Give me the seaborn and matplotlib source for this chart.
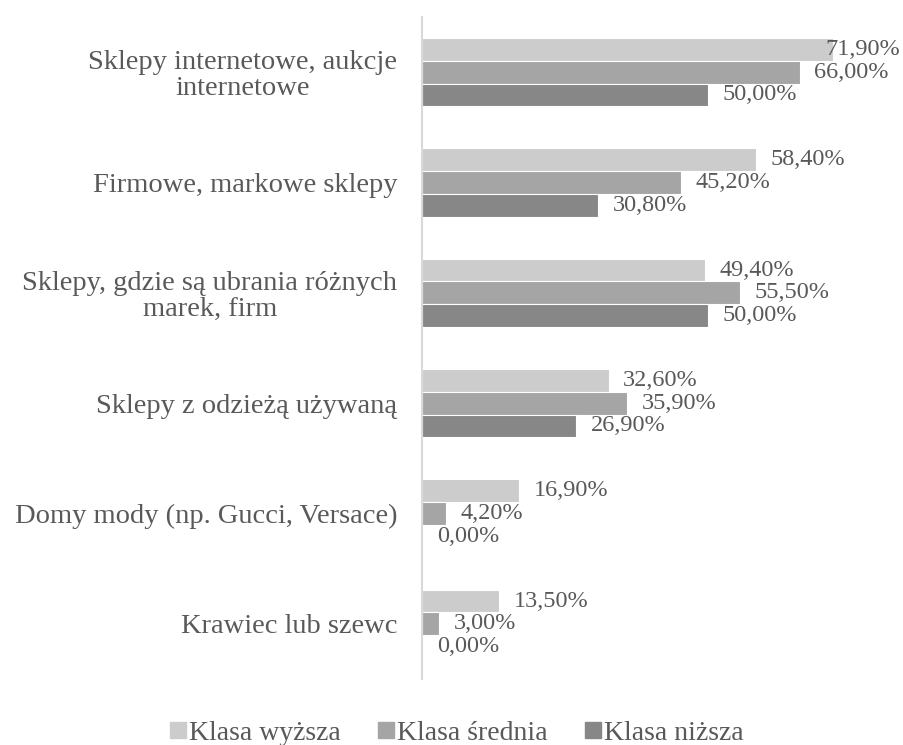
import pandas as pd
import matplotlib.pyplot as plt
import seaborn as sns

# Data
kategorie = [
    "Sklepy internetowe, aukcje\ninternetowe",
    "Firmowe, markowe sklepy",
    "Sklepy, gdzie są ubrania różnych\nmarek, firm",
    "Sklepy z odzieżą używaną",
    "Domy mody (np. Gucci, Versace)",
    "Krawiec lub szewc",
]
klasy = ["Klasa wyższa", "Klasa średnia", "Klasa niższa"]
wyzsza = [71.9, 58.4, 49.4, 32.6, 16.9, 13.5]
srednia = [66.0, 45.2, 55.5, 35.9, 4.2, 3.0]
nizsza = [50.0, 30.8, 50.0, 26.9, 0.0, 0.0]
kolory = ["#cccccc", "#a5a5a5", "#878787"]

df = pd.DataFrame({
    "kategoria": kategorie * 3,
    "klasa": [k for k in klasy for _ in kategorie],
    "wartosc": wyzsza + srednia + nizsza,
})

sns.set_style("white")
plt.rcParams["font.family"] = ["Liberation Serif", "DejaVu Serif"]
text_col = "#595959"

fig = plt.figure(figsize=(9.04, 7.45), dpi=100)
ax = fig.add_axes([0.467, 0.0886, 0.506, 0.8886])

sns.barplot(data=df, y="kategoria", x="wartosc", hue="klasa", order=kategorie,
            hue_order=klasy, palette=kolory, orient="h", width=0.62,
            edgecolor="white", linewidth=0.8, legend=False, ax=ax)

ax.set_xlim(0, 80)
ax.set_xlabel("")
ax.set_ylabel("")
ax.set_xticks([])
ax.tick_params(axis="y", length=0, pad=18, labelsize=20.5, labelcolor=text_col)
for lab in ax.get_yticklabels():
    lab.set_multialignment("center")
    lab.set_linespacing(1.05)

for s in ["top", "right", "bottom"]:
    ax.spines[s].set_visible(False)
ax.spines["left"].set_color("#d9d9d9")
ax.spines["left"].set_linewidth(1.5)

# data labels
for cont in ax.containers:
    labels = [f"{b.get_width():.2f}%".replace(".", ",") for b in cont]
    ax.bar_label(cont, labels=labels, padding=10.5, fontsize=17.5, color=text_col)

# keep labels inside the figure (Excel shifts overflowing labels left)
fig.canvas.draw()
r = fig.canvas.get_renderer()
for t in ax.texts:
    bb = t.get_window_extent(r)
    if bb.x1 > fig.bbox.width - 2:
        t.xyann = (t.xyann[0] - (bb.x1 - fig.bbox.width + 4) * 72 / fig.dpi, t.xyann[1])

handles = [plt.Line2D([], [], marker="s", linestyle="", markersize=11.5,
                      markerfacecolor=c, markeredgecolor=c) for c in kolory]
fig.legend(handles, klasy, loc="center", bbox_to_anchor=(457 / 904, 1 - 733 / 745),
           ncol=3, frameon=False, fontsize=20, labelcolor=text_col,
           handletextpad=0.1, columnspacing=1.33, handlelength=0.6,
           borderpad=0, borderaxespad=0)

fig.savefig("out.png", dpi=100)
